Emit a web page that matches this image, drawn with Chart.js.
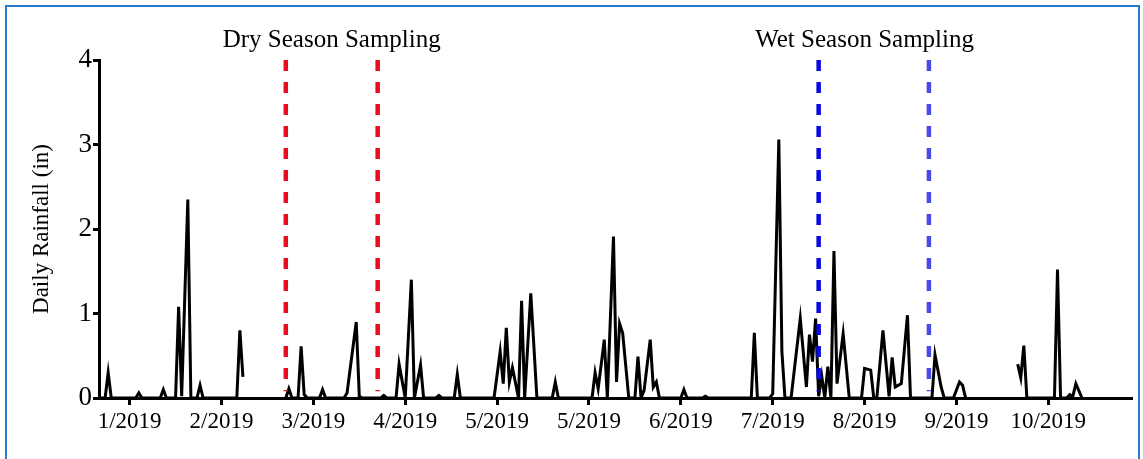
<!DOCTYPE html>
<html>
<head>
<meta charset="utf-8">
<script src="https://cdn.jsdelivr.net/npm/chart.js@4.4.1/dist/chart.umd.min.js"></script>
<style>
  html, body { margin: 0; padding: 0; background: #fff; }
  #wrap { position: relative; width: 1143px; height: 459px; overflow: hidden; }
  #frame { position: absolute; left: 5px; top: 5px; width: 1131px; height: 470px; border: 2px solid #2a78cf; }
  #chart { position: absolute; left: 0; top: 0; }
</style>
</head>
<body>
<div id="wrap">
  <div id="frame"></div>
  <canvas id="chart" width="1143" height="459"></canvas>
</div>
<script>
// day index (0 = start of record) and daily rainfall in inches; null = missing record
const rainDays = [
  0, 2, 3, 4, 12, 13, 14, 20, 21, 22, 25, 26, 27, 29, 30, 32, 33, 34, 45, 46, 47, 48,
  61, 62, 63, 65, 66, 67, 68, 72, 73, 74, 80, 81, 84, 85, 86, 92, 93, 94,
  97, 98, 100, 102, 103, 105, 106, 110, 111, 112, 116, 117, 118,
  129, 131, 132, 133, 134, 135, 137, 138, 139, 141, 143, 148, 149, 150,
  161, 162, 163, 165, 166, 168, 169, 170, 171, 173, 175, 176, 177, 178, 180, 181, 182, 183,
  190, 191, 192, 197, 198, 199, 213, 214, 215, 219, 220, 222, 223, 224,
  226, 229, 231, 232, 233, 234, 235, 236, 237, 238, 239, 240, 241, 243, 245,
  249, 250, 252, 253, 254, 256, 258, 259, 260, 262, 264, 265,
  272, 273, 275, 276, 279, 281, 282, 283, 284,
  300, 301, 302, 303, 312, 313, 314, 316, 317, 318, 319, 321
];
const rainValues = [
  0, 0, 0.30, 0, 0, 0.06, 0, 0, 0.10, 0, 0, 1.08, 0.02, 2.35, 0, 0, 0.15, 0, 0, 0.80, 0.25, null,
  0, 0.11, 0, 0, 0.61, 0.04, 0, 0, 0.10, 0, 0, 0.06, 0.90, 0.02, 0, 0, 0.03, 0,
  0, 0.40, 0, 1.40, 0, 0.39, 0, 0, 0.03, 0, 0, 0.28, 0,
  0, 0.55, 0.17, 0.83, 0.19, 0.36, 0, 1.15, 0, 1.24, 0, 0, 0.19, 0,
  0, 0.30, 0.11, 0.69, 0, 1.91, 0.19, 0.88, 0.77, 0, 0, 0.49, 0, 0.09, 0.69, 0.13, 0.19, 0,
  0, 0.10, 0, 0, 0.02, 0, 0, 0.77, 0, 0, 0.05, 3.06, 0.55, 0,
  0, 0.94, 0.13, 0.75, 0.43, 0.94, 0.02, 0.26, 0, 0.37, 0, 1.74, 0.17, 0.76, 0,
  0, 0.35, 0.33, 0, 0, 0.80, 0.02, 0.48, 0.13, 0.17, 0.98, 0,
  0, 0.51, 0.13, 0, 0, 0.19, 0.15, 0, null,
  0.40, 0.24, 0.62, 0, 0, 1.52, 0, 0, 0.04, 0.02, 0.17, 0
];

// x axis ticks
const tickDays = [10, 40, 70, 100, 130, 160, 190, 220, 250, 280, 310];
const tickLabels = ['1/2019', '2/2019', '3/2019', '4/2019', '5/2019', '5/2019',
                    '6/2019', '7/2019', '8/2019', '9/2019', '10/2019'];

// sampling dates, drawn as dashed verticals
const samplingDays = [61, 91, 235, 271];
const samplingColors = ['#ec0a1c', '#ec0a1c', '#0a0ae0', '#4a4ae8'];
const seasonNames = ['Dry Season Sampling', 'Wet Season Sampling'];
const seasonCenters = [76, 250];

const serif = "'Liberation Serif', 'Times New Roman', serif";

const markerSets = samplingDays.map((d, i) => ({
  data: [{ x: d, y: 4 }, { x: d, y: 0.08 }],
  borderColor: samplingColors[i],
  borderWidth: 4.5,
  borderDash: [11, 11],
  borderCapStyle: 'butt',
  pointRadius: 0,
  order: 0
}));

const seasonTitles = {
  id: 'seasonTitles',
  afterDraw(chart) {
    const ctx = chart.ctx;
    const xs = chart.scales.x;
    ctx.save();
    ctx.fillStyle = '#000';
    ctx.font = '25px ' + serif;
    ctx.textAlign = 'center';
    ctx.textBaseline = 'alphabetic';
    seasonNames.forEach((t, i) => {
      ctx.fillText(t, xs.getPixelForValue(seasonCenters[i]), 47);
    });
    ctx.restore();
  }
};

new Chart(document.getElementById('chart'), {
  type: 'line',
  data: {
    datasets: [
      {
        data: rainDays.map((d, i) => ({ x: d, y: rainValues[i] })),
        borderColor: '#000',
        borderWidth: 3,
        borderJoinStyle: 'miter',
        pointRadius: 0,
        tension: 0,
        spanGaps: false,
        order: 1
      },
      ...markerSets
    ]
  },
  options: {
    responsive: false,
    animation: false,
    layout: { padding: { left: 0, right: 12, top: 60, bottom: 0 } },
    plugins: { legend: { display: false }, tooltip: { enabled: false } },
    scales: {
      x: {
        type: 'linear',
        min: 0,
        max: 337,
        afterBuildTicks: (s) => { s.ticks = tickDays.map(v => ({ value: v })); },
        afterFit: (s) => { s.height = 61; },
        ticks: {
          autoSkip: false,
          maxRotation: 0,
          padding: 3,
          color: '#000',
          font: { family: serif, size: 23 },
          callback: (v, i) => tickLabels[i]
        },
        grid: { display: true, drawOnChartArea: false, drawTicks: true, tickLength: 7, color: '#000', lineWidth: 3 },
        border: { display: true, color: '#000', width: 3 }
      },
      y: {
        min: 0,
        max: 4,
        afterFit: (s) => { s.width = 99; },
        ticks: {
          stepSize: 1,
          padding: 1,
          color: '#000',
          font: { family: serif, size: 27 }
        },
        title: {
          display: true,
          text: 'Daily Rainfall (in)',
          color: '#000',
          font: { family: serif, size: 23 },
          padding: { top: 28 }
        },
        grid: { display: true, drawOnChartArea: false, drawTicks: true, tickLength: 6, color: '#000', lineWidth: 3 },
        border: { display: true, color: '#000', width: 3 }
      }
    }
  },
  plugins: [seasonTitles]
});
</script>
</body>
</html>
